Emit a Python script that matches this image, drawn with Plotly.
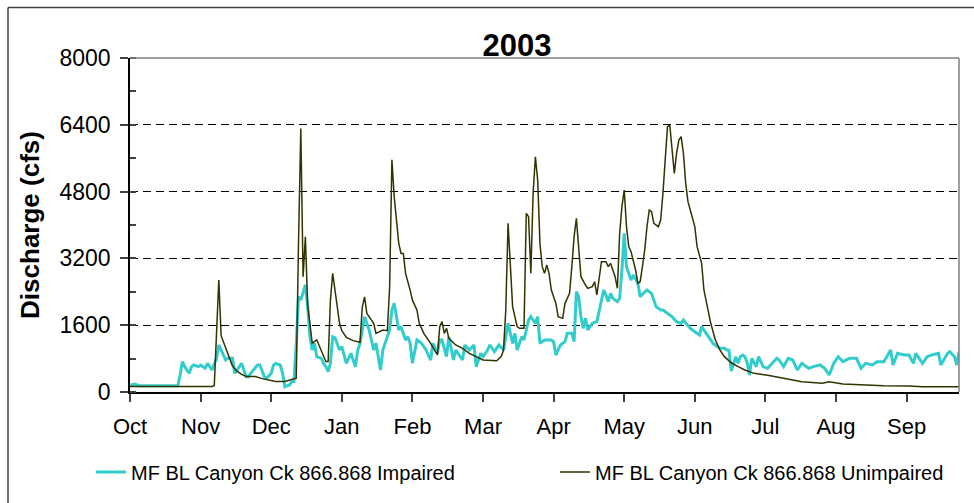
import pandas as pd
import plotly.graph_objects as go

# ---------------- data (day of water year from 1 Oct 2002, discharge cfs) ----------------
START = pd.Timestamp("2002-10-01")

month_labels = ["Oct", "Nov", "Dec", "Jan", "Feb", "Mar", "Apr", "May", "Jun", "Jul", "Aug", "Sep"]

impaired_day = [0, 2, 4, 21, 22, 23, 24, 26, 27, 28, 30, 31, 33, 34, 36, 37, 38, 39, 40, 42,
                43, 45, 46, 48, 49, 51, 52, 53, 56, 57, 59, 60, 62, 63, 64, 66, 67, 68, 70, 71,
                72, 73, 74, 75, 76, 77, 78, 79, 80, 81, 82, 84, 85, 86, 87, 88, 89, 90, 92, 93,
                95, 97, 99, 100, 101, 103, 105, 107, 108, 110, 111, 112, 114, 115, 116, 118, 119, 120, 121, 122,
                123, 124, 126, 128, 130, 132, 133, 135, 136, 137, 139, 140, 142, 143, 146, 147, 149, 151, 152, 154,
                155, 157, 158, 160, 161, 162, 164, 165, 166, 168, 169, 170, 172, 173, 175, 176, 178, 179, 180, 182,
                185, 186, 187, 189, 191, 192, 194, 195, 196, 197, 198, 199, 200, 201, 203, 205, 206, 208, 209, 210,
                211, 212, 214, 215, 216, 217, 218, 220, 221, 223, 224, 226, 227, 229, 230, 231, 233, 234, 236, 238,
                240, 242, 243, 245, 246, 248, 250, 251, 254, 256, 259, 261, 262, 263, 264, 266, 267, 268, 269, 270,
                271, 272, 273, 275, 276, 278, 280, 282, 284, 285, 287, 289, 291, 293, 295, 298, 300, 303, 305, 307,
                309, 311, 313, 316, 319, 321, 323, 326, 328, 331, 334, 335, 337, 340, 342, 344, 345, 348, 350, 352,
                355, 356, 359, 360, 362, 363, 364]
impaired_cfs = [160, 190, 150, 150, 400, 726, 607, 447, 607, 646, 607, 646, 567, 687, 527, 687, 806, 1126, 1006, 766,
                806, 806, 447, 607, 687, 367, 367, 447, 646, 646, 367, 327, 447, 646, 687, 646, 447, 128, 168, 248,
                250, 1166, 2283, 2203, 2363, 2563, 2044, 1325, 1006, 1166, 846, 806, 687, 607, 487, 687, 1325, 1300, 1006, 1086,
                687, 926, 607, 1006, 1166, 1804, 1485, 1006, 1166, 527, 1006, 1166, 1485, 1964, 2124, 1485, 1565, 1400, 1246, 1325,
                1166, 687, 1246, 1166, 1006, 766, 1166, 926, 1246, 1246, 846, 1325, 766, 1006, 766, 1126, 1006, 1126, 607, 926,
                846, 1006, 1126, 966, 1046, 1126, 1006, 1325, 1645, 1166, 1405, 1006, 1325, 1246, 1724, 1804, 1645, 1804, 1166, 1246,
                1246, 1200, 886, 1126, 1206, 1405, 1405, 1206, 2403, 2283, 1804, 1525, 1764, 1485, 1645, 1685, 1964, 2443, 2323, 2164,
                2363, 2243, 2164, 2243, 2922, 3800, 3002, 2682, 2802, 2603, 2283, 2403, 2443, 2363, 2203, 2044, 1964, 1964, 1884, 1804,
                1685, 1645, 1724, 1605, 1525, 1445, 1365, 1565, 1325, 1166, 1046, 1046, 1006, 1000, 500, 846, 687, 846, 886, 846,
                700, 407, 806, 607, 846, 607, 567, 687, 806, 766, 607, 806, 766, 527, 687, 567, 607, 647, 567, 407,
                687, 846, 726, 806, 806, 567, 687, 647, 726, 726, 1006, 647, 926, 886, 886, 687, 926, 687, 846, 886,
                926, 647, 926, 966, 846, 647, 966]

unimpaired_day = [0, 36, 37, 38, 39, 40, 41, 43, 45, 47, 49, 51, 55, 58, 61, 64, 68, 71, 73, 74,
                  75, 76, 77, 78, 79, 80, 82, 84, 86, 87, 88, 89, 91, 92, 93, 95, 98, 101, 102, 103,
                  104, 107, 108, 111, 113, 114, 115, 116, 118, 119, 120, 121, 123, 124, 126, 127, 129, 132, 135, 136,
                  137, 138, 139, 140, 143, 146, 149, 152, 155, 161, 163, 164, 165, 166, 167, 168, 170, 171, 173, 174,
                  175, 176, 177, 178, 179, 180, 181, 182, 183, 184, 185, 187, 188, 190, 191, 193, 194, 195, 196, 197,
                  198, 200, 201, 203, 204, 205, 206, 207, 209, 210, 211, 212, 213, 214, 215, 216, 217, 218, 219, 220,
                  222, 223, 224, 225, 226, 227, 228, 229, 230, 232, 233, 234, 235, 236, 237, 238, 239, 240, 241, 242,
                  243, 244, 245, 246, 248, 249, 251, 252, 254, 255, 257, 259, 261, 264, 267, 270, 274, 278, 280, 287,
                  295, 304, 307, 313, 322, 331, 342, 348, 364]
unimpaired_cfs = [130, 130, 150, 1500, 2680, 1350, 1200, 900, 620, 500, 420, 370, 370, 320, 290, 250, 250, 290, 330, 3600,
                  6310, 2760, 3720, 2100, 1560, 1170, 1250, 1000, 730, 730, 2200, 2840, 2000, 1645, 1470, 1310, 1230, 1190, 2040, 2280,
                  1880, 1645, 1405, 1485, 1470, 2500, 5560, 4680, 3560, 3320, 3320, 2840, 2440, 2200, 1964, 1645, 1405, 1166, 890, 1565,
                  1685, 1405, 1525, 1286, 1126, 1046, 926, 846, 766, 750, 846, 1000, 1964, 4040, 3160, 2044, 1565, 1525, 1525, 4280,
                  4199, 2842, 4758, 5636, 5077, 3561, 3002, 2842, 3042, 2842, 2443, 2124, 1804, 1764, 2124, 2363, 3002, 3720, 4160, 3500,
                  2762, 2563, 2483, 2523, 2642, 2323, 2762, 3121, 3121, 3002, 3082, 2922, 2762, 2483, 3800, 4439, 4838, 3960, 3481, 3361,
                  2922, 2603, 2642, 3002, 3401, 3960, 4359, 4319, 4040, 3960, 4120, 4758, 5636, 6354, 6394, 5716, 5237, 5716, 6035, 6115,
                  5716, 4998, 4559, 4359, 3960, 3481, 3082, 2443, 1964, 1645, 1250, 1006, 846, 700, 607, 527, 447, 420, 400, 327,
                  248, 208, 248, 192, 168, 152, 146, 128, 128]

imp_dates = [START + pd.Timedelta(days=d) for d in impaired_day]
unimp_dates = [START + pd.Timedelta(days=d) for d in unimpaired_day]
tick_dates = [START + pd.Timedelta(days=31 * i) for i in range(len(month_labels))]

FONT = "Arial, 'Liberation Sans', sans-serif"
CYAN = "#33CCCC"
OLIVE = "#333300"

fig = go.Figure()
fig.add_trace(go.Scatter(
    x=imp_dates, y=impaired_cfs, mode="lines",
    name="MF BL Canyon Ck 866.868 Impaired",
    line=dict(color=CYAN, width=3), legend="legend"))
fig.add_trace(go.Scatter(
    x=unimp_dates, y=unimpaired_cfs, mode="lines",
    name="MF BL Canyon Ck 866.868 Unimpaired",
    line=dict(color=OLIVE, width=1.5), legend="legend2"))

# plot area: x 130..959 px, y 58..392 px
PW, PH = 829.0, 334.0
def px_x(p):
    return (p - 130) / PW
def px_y(p):
    return (392 - p) / PH

shapes = [
    # grey top / right border of plot area
    dict(type="line", xref="paper", yref="paper", x0=0, x1=1, y0=1, y1=1,
         line=dict(color="#7f7f7f", width=1.5)),
    dict(type="line", xref="paper", yref="paper", x0=1, x1=1, y0=0, y1=1,
         line=dict(color="#7f7f7f", width=1.5)),
    # outer chart frame (top and left)
    dict(type="line", xref="paper", yref="paper", x0=px_x(8), x1=px_x(980), y0=px_y(7.5), y1=px_y(7.5),
         line=dict(color="#404040", width=1.5)),
    dict(type="line", xref="paper", yref="paper", x0=px_x(8), x1=px_x(8), y0=px_y(7.5), y1=px_y(520),
         line=dict(color="#404040", width=1.5)),
]

fig.update_layout(
    width=974, height=503,
    margin=dict(l=130, r=15, t=58, b=111),
    paper_bgcolor="white", plot_bgcolor="white",
    font=dict(family=FONT, color="black", size=22),
    title=dict(text="<b>2003</b>", x=517 / 974, xref="container", xanchor="center",
               y=1 - 45 / 503, yref="container", yanchor="middle",
               font=dict(family=FONT, size=31, color="black")),
    showlegend=True,
    legend=dict(orientation="h", xref="container", yref="container",
                x=91 / 974, xanchor="left", y=1 - 472 / 503, yanchor="middle",
                font=dict(family=FONT, size=20, color="black"), bgcolor="rgba(0,0,0,0)",
                itemwidth=30),
    legend2=dict(orientation="h", xref="container", yref="container",
                 x=555 / 974, xanchor="left", y=1 - 472 / 503, yanchor="middle",
                 font=dict(family=FONT, size=20, color="black"), bgcolor="rgba(0,0,0,0)",
                 itemwidth=30),
    shapes=shapes,
)

fig.update_xaxes(
    type="date",
    range=[START, START + pd.Timedelta(days=364)],
    tickmode="array", tickvals=tick_dates, ticktext=month_labels,
    ticks="outside", ticklen=8, tickwidth=1.5, tickcolor="#404040",
    showline=True, linecolor="black", linewidth=1.5,
    showgrid=False, zeroline=False,
    tickfont=dict(family=FONT, size=22, color="black"),
    ticklabelstandoff=6,
)
fig.update_yaxes(
    range=[0, 8000], tick0=0, dtick=1600,
    ticks="outside", ticklen=8, tickwidth=1.5, tickcolor="#404040",
    minor=dict(dtick=800, ticks="inside", ticklen=6, tickcolor="#404040", showgrid=False),
    showline=True, linecolor="black", linewidth=1.5,
    showgrid=True, gridcolor="black", gridwidth=1, griddash="8px,5px",
    zeroline=False,
    tickfont=dict(family=FONT, size=23, color="black"),
    ticklabelstandoff=5,
    title=dict(text="<b>Discharge (cfs)</b>", font=dict(family=FONT, size=26, color="black"),
               standoff=12),
    automargin=False,
)

fig.write_html("out.html", config={"displayModeBar": False},
               post_script="document.body.style.margin='0';")
